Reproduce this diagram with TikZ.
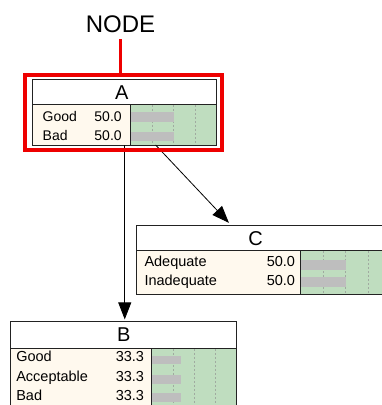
\documentclass[tikz,border=0pt]{standalone}
\usepackage{fontspec}
\setmainfont{Liberation Sans}
\usetikzlibrary{arrows.meta}
\definecolor{paneCream}{HTML}{FFF9EE}
\definecolor{paneGreen}{HTML}{BFDDBF}
\definecolor{barGray}{HTML}{BEBEBE}
\definecolor{gridGray}{HTML}{A0AAA0}
\definecolor{frameRed}{HTML}{EE0000}
\definecolor{edgeDark}{HTML}{222222}
\tikzset{
  box/.style={draw=edgeDark, line width=0.9pt, inner sep=0, outer sep=0, anchor=north west},
  rowtxt/.style={inner sep=0, outer sep=0, font=\fontsize{14.5}{16}\selectfont},
  titletxt/.style={inner sep=0, outer sep=0, anchor=base, font=\fontsize{20}{22}\selectfont},
  greenpane/.style={fill=paneGreen, draw=edgeDark, line width=0.9pt},
  gridline/.style={gridGray, dash pattern=on 2pt off 2pt, line width=0.5pt},
  bar/.style={fill=barGray},
  link/.style={draw=black, line width=0.8pt, -{Triangle[length=17pt,width=13pt]}},
}
\begin{document}
\begin{tikzpicture}[x=1pt,y=-1pt]
\useasboundingbox (0,0) rectangle (382,405);
\clip (0,0) rectangle (382,405);

% ---------- node A ----------
\fill[white] (32.8,79.3) rectangle (216.7,104.3);
\fill[paneCream] (32.8,104.3) rectangle (130.5,145);
\draw[greenpane] (130.5,104.3) rectangle (216.7,145);
\foreach \gx in {152.1,173.6,195.2} \draw[gridline] (\gx,104.8) -- (\gx,144.5);
\fill[bar] (130.9,112.3) rectangle (173.6,121.7);
\fill[bar] (130.9,131.5) rectangle (173.6,141);
\draw[edgeDark, line width=0.9pt] (32.8,104.3) -- (216.7,104.3);
\node[box, minimum width=183.9pt, minimum height=65.7pt] (A) at (32.8,79.3) {};
\node[titletxt] (A-title) at (121.8,99.3) {A};
\node[rowtxt, font=\fontsize{14}{16}\selectfont, anchor=base west] (A-s1) at (42.7,121) {Good};
\node[rowtxt, font=\fontsize{14}{16}\selectfont, anchor=base east] (A-v1) at (121.7,121) {50.0};
\node[rowtxt, font=\fontsize{14}{16}\selectfont, anchor=base west] (A-s2) at (42.7,140.7) {Bad};
\node[rowtxt, font=\fontsize{14}{16}\selectfont, anchor=base east] (A-v2) at (121.7,140.7) {50.0};

% ---------- node C ----------
\fill[white] (136,225) rectangle (390.7,250.7);
\fill[paneCream] (136,250.7) rectangle (300.7,294);
\draw[greenpane] (300.7,250.7) rectangle (390.7,294);
\foreach \gx in {323.2,345.7,368.2} \draw[gridline] (\gx,251.2) -- (\gx,293.5);
\fill[bar] (301.1,260) rectangle (345.7,270);
\fill[bar] (301.1,276.7) rectangle (345.7,287.3);
\draw[edgeDark, line width=0.9pt] (136,250.7) -- (390.7,250.7);
\node[box, minimum width=254.7pt, minimum height=69pt] (C) at (136,225) {};
\node[titletxt] (C-title) at (255.5,245) {C};
\node[rowtxt, anchor=base west] (C-s1) at (144.5,266.7) {Adequate};
\node[rowtxt, anchor=base east] (C-v1) at (295,266.7) {50.0};
\node[rowtxt, anchor=base west] (C-s2) at (144.5,285) {Inadequate};
\node[rowtxt, anchor=base east] (C-v2) at (295,285) {50.0};

% ---------- node B ----------
\fill[white] (10.7,321.7) rectangle (236,348.3);
\fill[paneCream] (10.7,348.3) rectangle (151.7,412);
\draw[greenpane] (151.7,348.3) rectangle (236,412);
\foreach \gx in {172.8,193.9,214.9} \draw[gridline] (\gx,348.8) -- (\gx,412);
\fill[bar] (152.1,356) rectangle (180.8,364.3);
\fill[bar] (152.1,375) rectangle (180.8,384.3);
\fill[bar] (152.1,393.3) rectangle (180.8,401.7);
\draw[edgeDark, line width=0.9pt] (10.7,348.3) -- (236,348.3);
\node[box, minimum width=225.3pt, minimum height=90.3pt] (B) at (10.7,321.7) {};
\node[titletxt] (B-title) at (123.7,341.7) {B};
\node[rowtxt, anchor=base west] (B-s1) at (16.3,361.7) {Good};
\node[rowtxt, anchor=base east] (B-v1) at (144,361.7) {33.3};
\node[rowtxt, anchor=base west] (B-s2) at (16.3,381) {Acceptable};
\node[rowtxt, anchor=base east] (B-v2) at (144,381) {33.3};
\node[rowtxt, anchor=base west] (B-s3) at (16.3,400) {Bad};
\node[rowtxt, anchor=base east] (B-v3) at (144,400) {33.3};

% ---------- links ----------
\draw[link, shorten >=2.3pt] (A.south) -- (A.south |- B.north);
\draw[link, shorten >=3pt] (A) -- (C);

% ---------- highlight frame and its caption ----------
\node[draw=frameRed, line width=4pt, inner sep=0, outer sep=0,
      minimum width=196.7pt, minimum height=75.6pt, anchor=north west] (frame) at (25.3,74.7) {};
\node[inner sep=0, outer sep=0, anchor=base, font=\fontsize{24}{28}\selectfont] (caption) at (120.5,32.3) {NODE};
\draw[frameRed, line width=2.2pt, shorten <=6.7pt, shorten >=1pt] (caption.south) -- (caption.south |- frame.north);
\end{tikzpicture}
\end{document}
